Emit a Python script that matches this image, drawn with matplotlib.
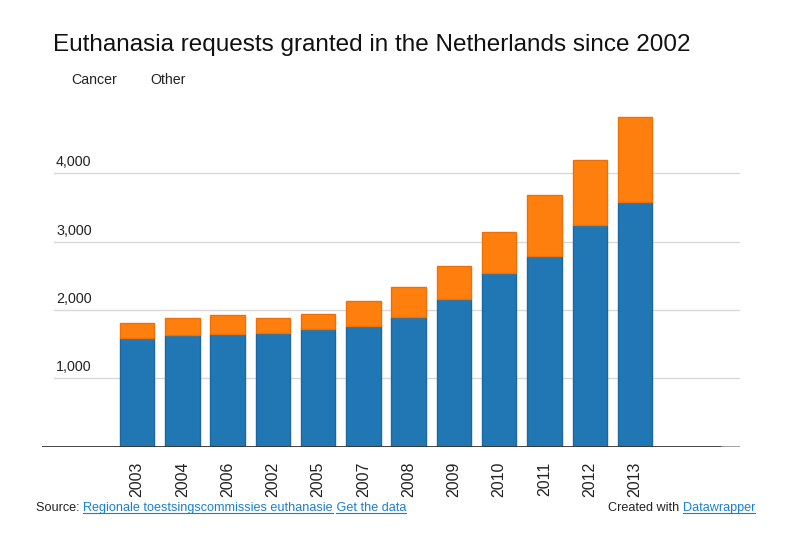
import matplotlib.pyplot as plt
from matplotlib.lines import Line2D

plt.rcParams['font.family'] = ['Liberation Sans', 'DejaVu Sans']

years = ['2003', '2004', '2006', '2002', '2005', '2007',
         '2008', '2009', '2010', '2011', '2012', '2013']
cancer = [1590, 1640, 1645, 1660, 1715, 1770, 1895, 2155, 2545, 2795, 3248, 3585]
totals = [1810, 1890, 1925, 1885, 1935, 2125, 2340, 2640, 3137, 3690, 4190, 4830]
other = [t - c for t, c in zip(totals, cancer)]
y_ticks = [1000, 2000, 3000, 4000]

W, H = 791, 534
fig = plt.figure(figsize=(W / 100, H / 100), dpi=100)

# axes placed in pixel terms of the reference
ax_left, ax_right, ax_bottom, ax_top = 42, 740, 446.6, 105.1
ax = fig.add_axes([ax_left / W, 1 - ax_bottom / H,
                   (ax_right - ax_left) / W, (ax_bottom - ax_top) / H])

blue = '#2077b4'
orange = '#ff7f0e'
x = list(range(len(years)))
ax.bar(x, cancer, width=0.76, color=blue, edgecolor='#1b68a3', linewidth=1, zorder=3)
ax.bar(x, other, width=0.76, bottom=cancer, color=orange, edgecolor='#ec710c',
       linewidth=1, zorder=3)

ax.set_xlim(-2.10, 13.32)
ax.set_ylim(0, 5000)
for s in ax.spines.values():
    s.set_visible(False)
ax.set_yticks([])
ax.set_xticks(x)
ax.set_xticklabels(years, rotation=90, fontsize=11.5, color='#222222', va='top')
ax.tick_params(axis='x', length=0, pad=11)

grid_start = (54 - ax_left) / (ax_right - ax_left)
label_x = ax.transData.inverted().transform((56, 0))[0]
for v in y_ticks:
    ax.axhline(v, xmin=grid_start, xmax=1, color='#d9d9d9', linewidth=1, zorder=1)
    ax.text(label_x, v + 60, f'{v:,}', fontsize=10.3, color='#222222', va='bottom')

split = (722 - ax_left) / (ax_right - ax_left)
ax.axhline(0, xmin=0, xmax=split, color='#333333', linewidth=2, zorder=4)
ax.axhline(0, xmin=split, xmax=1, color='#999999', linewidth=2, zorder=4)

fig.text(53 / W, 1 - 45 / H, 'Euthanasia requests granted in the Netherlands since 2002',
         fontsize=17.5, color='#111111', va='center')
fig.text(71 / W, 1 - 80 / H, 'Cancer', fontsize=10.2, color='#222222', va='center')
fig.text(150 / W, 1 - 80 / H, 'Other', fontsize=10.2, color='#222222', va='center')

link = '#1a7fd1'
src = fig.text(36 / W, 1 - 508 / H, 'Source: ', fontsize=9.1, color='#222222', va='center')
l1 = ax.annotate('Regionale toestsingscommissies euthanasie', xy=(1, 0.5),
                 xycoords=src, va='center', fontsize=9.1, color=link)
l2 = ax.annotate(' Get the data', xy=(1, 0.5), xycoords=l1, va='center',
                 fontsize=9.1, color=link)
dw = fig.text(755 / W, 1 - 508 / H, 'Datawrapper', fontsize=9.1, color=link,
              ha='right', va='center')
ax.annotate('Created with ', xy=(0, 0.5), xycoords=dw, ha='right', va='center',
            fontsize=9.1, color='#222222')

# underline the links
fig.canvas.draw()
renderer = fig.canvas.get_renderer()
for t in [l1, l2, dw]:
    bb = t.get_window_extent(renderer)
    x0 = bb.x0
    if t is l2:
        x0 += renderer.get_text_width_height_descent(' ', t.get_fontproperties(), False)[0]
    fig.add_artist(Line2D([x0 / W, bb.x1 / W], [(bb.y0 + 1) / H, (bb.y0 + 1) / H],
                          color=link, linewidth=0.8))

fig.savefig('out.png', dpi=100)
